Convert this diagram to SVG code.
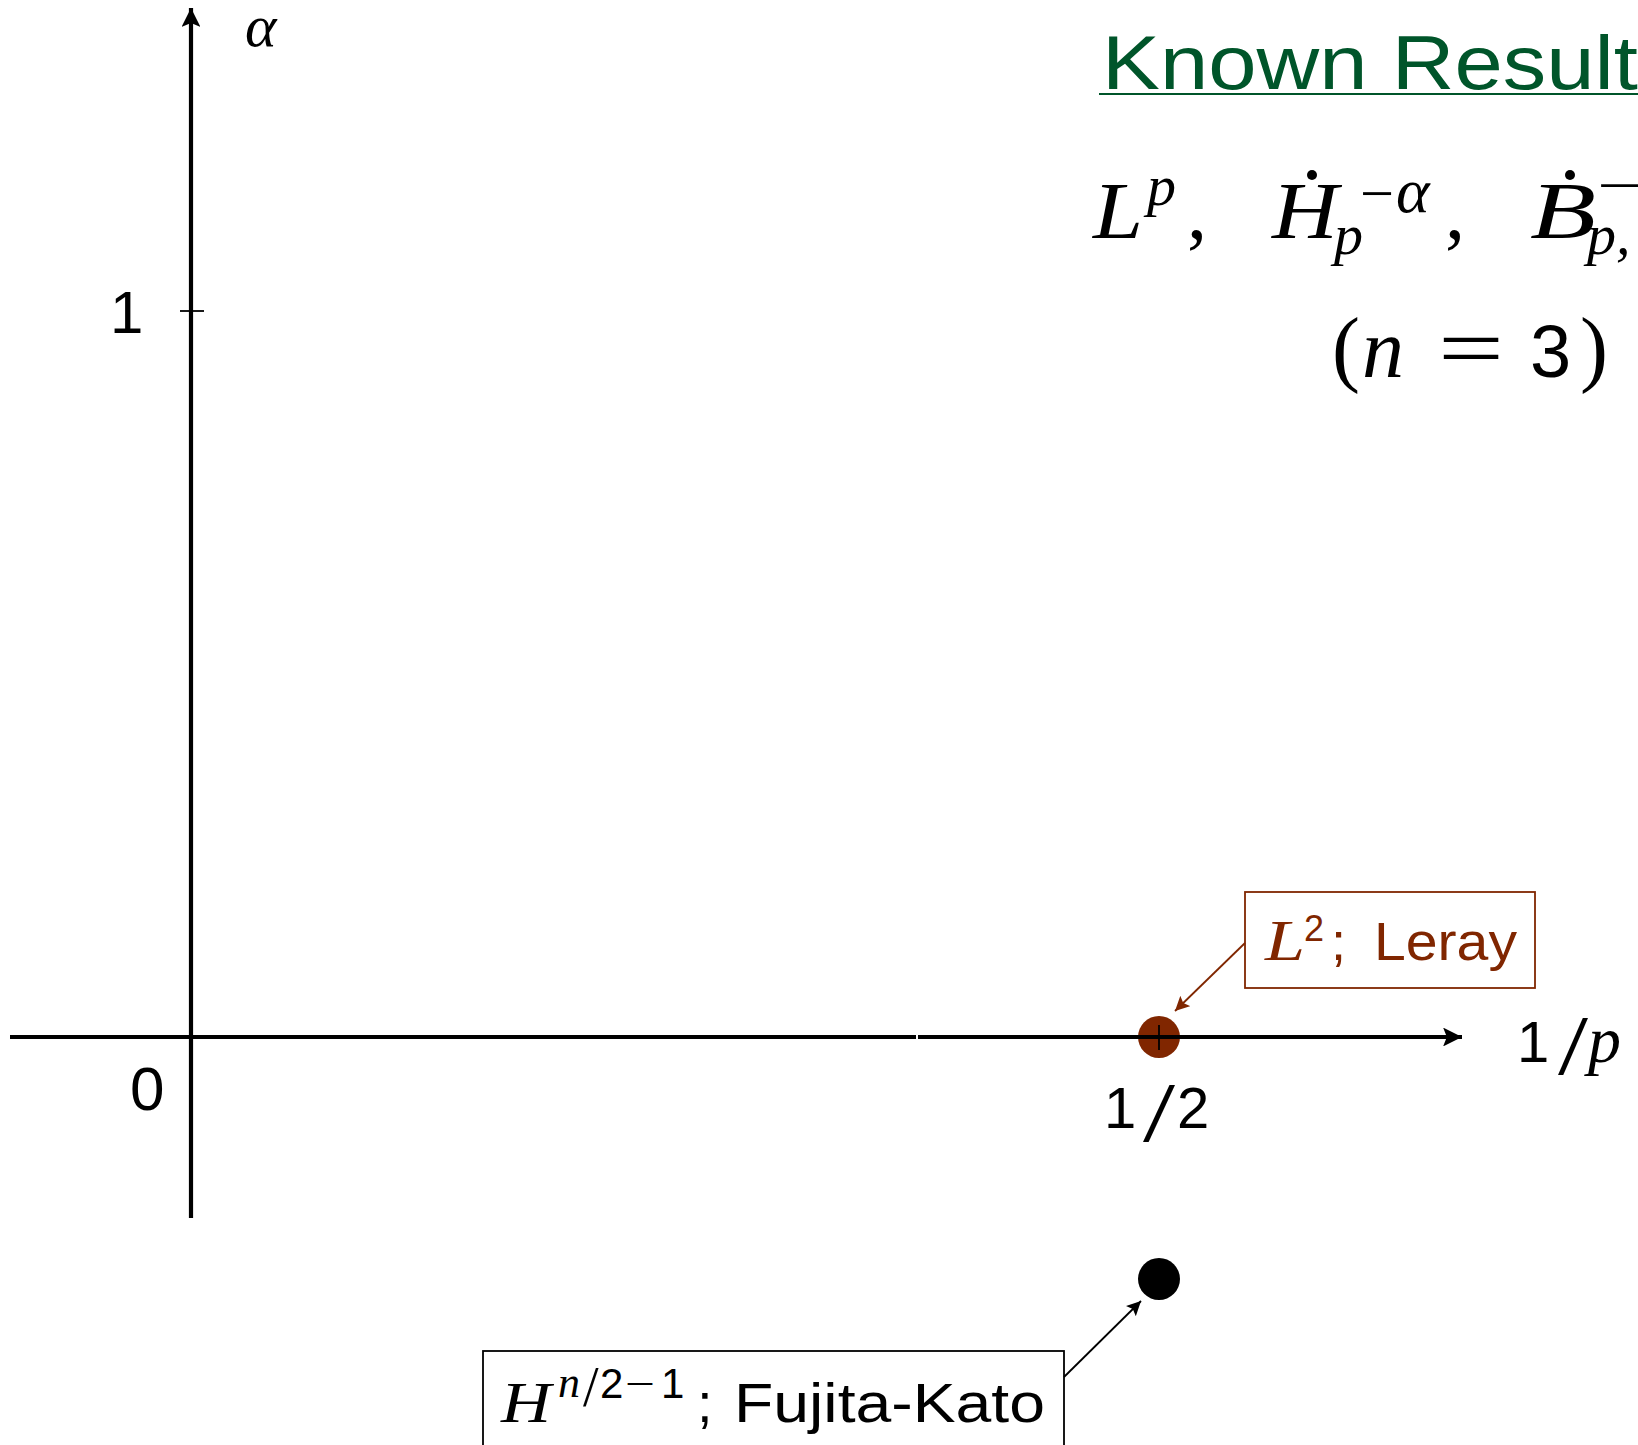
<svg xmlns="http://www.w3.org/2000/svg" width="1638" height="1445" viewBox="0 0 1638 1445">
<defs>
<style>
.sans{font-family:"Liberation Sans","DejaVu Sans",sans-serif;}
.math{font-family:"Liberation Serif","DejaVu Serif",serif;font-style:italic;}
.mrm{font-family:"Liberation Serif","DejaVu Serif",serif;}
.axis{stroke:#000;stroke-width:4.2;fill:none;}
.tick{stroke:#000;stroke-width:1.8;fill:none;}
</style>
<marker id="axhead" viewBox="0 0 10 10" refX="10" refY="5" markerWidth="4.5" markerHeight="4.5" markerUnits="strokeWidth" orient="auto">
<path d="M0,0 L10,5 L0,10 L2,5 Z" fill="#000"/>
</marker>
<marker id="redhead" viewBox="0 0 10 10" refX="10" refY="5" markerWidth="8" markerHeight="8" markerUnits="strokeWidth" orient="auto">
<path d="M0,0 L10,5 L0,10 L2,5 Z" fill="#802600"/>
</marker>
<marker id="blkhead" viewBox="0 0 10 10" refX="10" refY="5" markerWidth="8" markerHeight="8" markerUnits="strokeWidth" orient="auto">
<path d="M0,0 L10,5 L0,10 L2,5 Z" fill="#000"/>
</marker>
</defs>
<rect width="1638" height="1445" fill="#fff"/>

<g id="title">
<text class="sans" x="1102" y="89" font-size="76" fill="#00552A" textLength="536" lengthAdjust="spacingAndGlyphs">Known Result</text>
<line x1="1099" y1="94" x2="1638" y2="94" stroke="#00552A" stroke-width="2"/>
</g>

<g id="spaces">
<text class="math" x="1093" y="238" font-size="80" textLength="50" lengthAdjust="spacingAndGlyphs">L</text>
<text class="math" x="1147" y="205" font-size="58">p</text>
<text class="mrm" x="1187" y="238" font-size="80">,</text>
<text class="math" x="1272" y="238" font-size="80" textLength="66" lengthAdjust="spacingAndGlyphs">H</text>
<circle cx="1312" cy="175" r="5" fill="#000"/>
<text class="math" x="1334" y="254" font-size="58">p</text>
<text class="mrm" x="1360" y="213" font-size="58" textLength="34" lengthAdjust="spacingAndGlyphs">−</text>
<text class="math" x="1396" y="212" font-size="64">α</text>
<text class="mrm" x="1445" y="238" font-size="80">,</text>
<text class="math" x="1530" y="238" font-size="80" textLength="66" lengthAdjust="spacingAndGlyphs">B</text>
<circle cx="1570" cy="175" r="5" fill="#000"/>
<text class="math" x="1587" y="254" font-size="58">p,</text>
<text class="mrm" x="1597" y="205" font-size="58" textLength="46" lengthAdjust="spacingAndGlyphs">−</text>
</g>

<g id="dimension">
<text class="mrm" x="1332" y="376" font-size="84">(</text>
<text class="math" x="1362" y="377" font-size="84">n</text>
<text class="mrm" x="1438" y="377" font-size="84" textLength="66" lengthAdjust="spacingAndGlyphs">=</text>
<text class="sans" x="1530" y="377" font-size="74">3</text>
<text class="mrm" x="1580" y="376" font-size="84">)</text>
</g>

<g id="leray-point">
<circle cx="1159" cy="1037" r="21" fill="#802600"/>
</g>

<g id="fujita-point">
<circle cx="1159" cy="1279" r="21" fill="#000"/>
</g>

<g id="axes">
<line class="axis" x1="10" y1="1037" x2="916" y2="1037"/>
<line class="axis" x1="918" y1="1037" x2="1462" y2="1037" marker-end="url(#axhead)"/>
<line class="axis" x1="191" y1="1218" x2="191" y2="8" marker-end="url(#axhead)"/>
<line class="tick" x1="180" y1="311" x2="204" y2="311"/>
<line class="tick" x1="1159" y1="1025" x2="1159" y2="1050"/>
<text class="math" x="245" y="46" font-size="60">α</text>
<text class="sans" x="110" y="333" font-size="60">1</text>
<text class="sans" x="130" y="1110" font-size="62">0</text>
<text class="sans" x="1517" y="1062" font-size="58">1</text>
<text class="mrm" x="1558" y="1074" font-size="84" textLength="30" lengthAdjust="spacingAndGlyphs">/</text>
<text class="math" x="1588" y="1062" font-size="66">p</text>
<text class="sans" x="1104" y="1128" font-size="58">1</text>
<text class="mrm" x="1143" y="1141" font-size="84" textLength="32" lengthAdjust="spacingAndGlyphs">/</text>
<text class="sans" x="1177" y="1128" font-size="58">2</text>
</g>

<g id="leray-label">
<rect x="1245" y="892" width="290" height="96" fill="none" stroke="#802600" stroke-width="1.8"/>
<text class="math" x="1265" y="960" font-size="57" fill="#802600" textLength="40" lengthAdjust="spacingAndGlyphs">L</text>
<text class="sans" x="1304" y="941" font-size="36" fill="#802600">2</text>
<text class="sans" x="1331" y="960" font-size="54" fill="#802600">;</text>
<text class="sans" x="1374" y="960" font-size="54" fill="#802600" textLength="143" lengthAdjust="spacingAndGlyphs">Leray</text>
</g>

<g id="fujita-label">
<rect x="483" y="1351" width="581" height="110" fill="none" stroke="#000" stroke-width="1.8"/>
<text class="math" x="501" y="1422" font-size="57" textLength="50" lengthAdjust="spacingAndGlyphs">H</text>
<text class="math" x="558" y="1397" font-size="44">n</text>
<text class="mrm" x="583" y="1406" font-size="56">/</text>
<text class="sans" x="600" y="1398" font-size="42">2</text>
<text class="mrm" x="625" y="1398" font-size="42" textLength="30" lengthAdjust="spacingAndGlyphs">−</text>
<text class="sans" x="661" y="1398" font-size="42">1</text>
<text class="sans" x="697" y="1422" font-size="56">;</text>
<text class="sans" x="734" y="1422" font-size="56" textLength="311" lengthAdjust="spacingAndGlyphs">Fujita-Kato</text>
</g>

<g id="connectors">
<line x1="1245" y1="943" x2="1175" y2="1011" stroke="#802600" stroke-width="1.8" marker-end="url(#redhead)"/>
<line x1="1064" y1="1377" x2="1141" y2="1301" stroke="#000" stroke-width="1.8" marker-end="url(#blkhead)"/>
</g>
</svg>
